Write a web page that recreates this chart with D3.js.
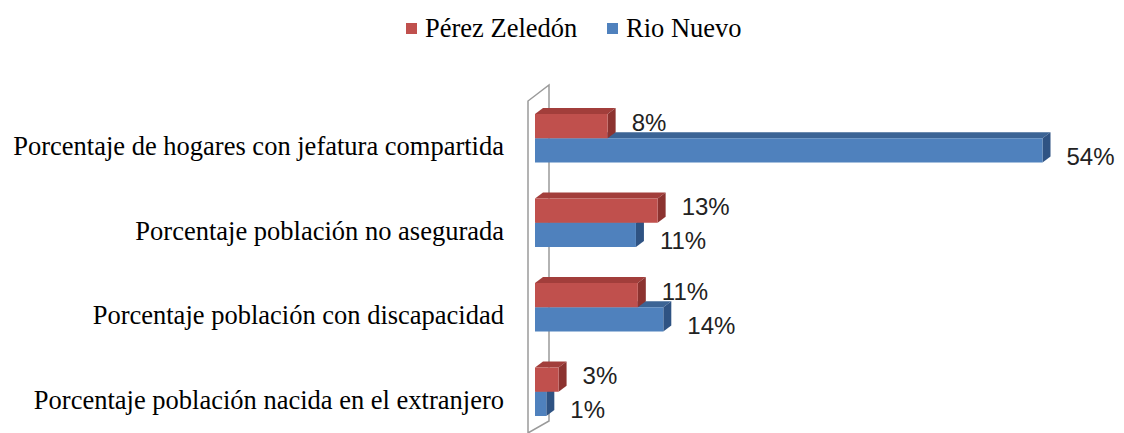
<!DOCTYPE html>
<html>
<head>
<meta charset="utf-8">
<script src="https://d3js.org/d3.v7.min.js"></script>
<style>
  body { margin: 0; background: #fff; }
  svg { display: block; }
</style>
</head>
<body>
<svg id="chart"></svg>
<script>
// Data
const categories = [
  'Porcentaje de hogares con jefatura compartida',
  'Porcentaje población no asegurada',
  'Porcentaje población con discapacidad',
  'Porcentaje población nacida en el extranjero'
];
const seriesNames = ['Pérez Zeledón', 'Rio Nuevo'];
const perezZeledon = [7.7, 13.0, 10.9, 2.5];
const rioNuevo = [53.8, 10.7, 13.6, 1.2];

// Colors (front, top, side)
const colors = {
  'Pérez Zeledón': { front: '#c0504d', top: '#a23e3b', side: '#8c3330' },
  'Rio Nuevo': { front: '#4f81bd', top: '#3c6495', side: '#2f5383' }
};

const width = 1124;
const height = 433;
const depth = { dx: 8, dy: -6 };

const svg = d3.select('#chart')
  .attr('width', width)
  .attr('height', height);

const x = d3.scaleLinear().domain([0, 60]).range([535, 1101]);

const y = d3.scaleBand()
  .domain(categories)
  .range([96, 434])
  .paddingInner(0.426)
  .paddingOuter(0.213);

const ySeries = d3.scaleBand()
  .domain(seriesNames)
  .range([0, y.bandwidth()]);

// Wall (3D axis plane)
const x0 = x(0);
const wallTop = 101;
const wallBottom = 433;
svg.append('path')
  .attr('d', `M${x0 - 7},${wallBottom} L${x0 - 7},${wallTop} L${x0 + 14},${wallTop - 16} L${x0 + 14},${wallBottom - 12} L${x0 - 7},${wallBottom}`)
  .attr('fill', 'none')
  .attr('stroke', '#9a9a9a')
  .attr('stroke-width', 1.5);

// Bars: draw Rio Nuevo first so Pérez Zeledón's front covers its top face
const rows = categories.map((c, i) => ({
  category: c,
  values: { 'Pérez Zeledón': perezZeledon[i], 'Rio Nuevo': rioNuevo[i] }
}));

const drawOrder = ['Rio Nuevo', 'Pérez Zeledón'];
const barGroup = svg.append('g');

drawOrder.forEach(name => {
  rows.forEach(r => {
    const v = r.values[name];
    const xa = x(0);
    const xb = x(v);
    const y0 = y(r.category) + ySeries(name);
    const h = ySeries.bandwidth();
    const c = colors[name];
    const g = barGroup.append('g');
    // top face
    g.append('path')
      .attr('d', `M${xa},${y0} L${xa + depth.dx},${y0 + depth.dy} L${xb + depth.dx},${y0 + depth.dy} L${xb},${y0} Z`)
      .attr('fill', c.top);
    // side face
    g.append('path')
      .attr('d', `M${xb},${y0} L${xb + depth.dx},${y0 + depth.dy} L${xb + depth.dx},${y0 + h + depth.dy} L${xb},${y0 + h} Z`)
      .attr('fill', c.side);
    // front face
    g.append('rect')
      .attr('x', xa)
      .attr('y', y0)
      .attr('width', xb - xa)
      .attr('height', h)
      .attr('fill', c.front);
  });
});

// Value labels
const labelGroup = svg.append('g')
  .attr('font-family', '"Liberation Sans", Arial, sans-serif')
  .attr('font-size', '24px')
  .attr('fill', '#222');

seriesNames.forEach(name => {
  rows.forEach(r => {
    const v = r.values[name];
    const yc = y(r.category) + ySeries(name) + ySeries.bandwidth() / 2;
    labelGroup.append('text')
      .attr('x', x(v) + depth.dx + 16)
      .attr('y', yc + (name === 'Pérez Zeledón' ? -4 : 6))
      .attr('dominant-baseline', 'central')
      .text(Math.round(v) + '%');
  });
});

// Category labels
svg.append('g')
  .attr('font-family', '"Liberation Serif", "Times New Roman", serif')
  .attr('font-size', '26.5px')
  .attr('fill', '#000')
  .selectAll('text')
  .data(categories)
  .enter()
  .append('text')
  .attr('x', 504)
  .attr('y', d => y(d) + y.bandwidth() / 2 + 8)
  .attr('text-anchor', 'end')
  .attr('dominant-baseline', 'central')
  .text(d => d);

// Legend
const legend = svg.append('g')
  .attr('font-family', '"Liberation Serif", "Times New Roman", serif')
  .attr('font-size', '26.5px');

const legendX = [406, 607];
seriesNames.forEach((name, i) => {
  legend.append('rect')
    .attr('x', legendX[i])
    .attr('y', 23)
    .attr('width', 11)
    .attr('height', 11)
    .attr('fill', colors[name].front);
  legend.append('text')
    .attr('x', legendX[i] + 19)
    .attr('y', 28)
    .attr('dominant-baseline', 'central')
    .text(name);
});
</script>
</body>
</html>
